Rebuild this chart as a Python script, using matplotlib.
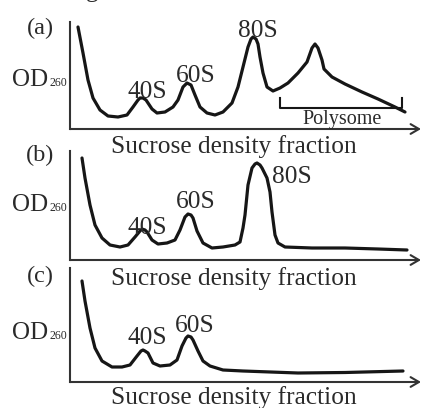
import matplotlib
matplotlib.use('Agg')
import matplotlib.pyplot as plt

W, H = 421, 408

# Profiles (x = fraction position, y = OD260, arbitrary units)
a_x = [8, 13, 18, 23, 30, 38, 48, 57, 63, 68, 70, 73, 76, 82, 87, 95, 103, 108, 113, 117,
       121, 125, 130, 137, 145, 153, 162, 168, 173, 178, 181, 183, 186, 188, 190, 193, 197,
       203, 210, 218, 228, 237, 242, 245, 248, 252, 254, 262, 275, 292, 308, 325, 335]
a_y = [102, 76, 49, 31, 19, 13, 12, 14, 22, 29, 31, 31, 29, 20, 16, 17, 22, 29, 42, 46,
       44, 34, 22, 16, 14, 17, 26, 42, 62, 82, 90, 92, 90, 85, 72, 56, 42,
       38, 41, 46, 56, 67, 81, 85, 81, 69, 60, 52, 45, 37, 30, 22, 17]

b_x = [12, 15, 20, 25, 32, 40, 50, 58, 65, 70, 72, 75, 77, 82, 88, 97, 105, 110, 115, 118,
       121, 123, 127, 133, 142, 153, 165, 170, 173, 175, 178, 182, 185, 187, 190, 192,
       197, 200, 202, 205, 208, 215, 242, 275, 308, 337]
b_y = [102, 82, 55, 35, 22, 15, 13, 15, 23, 29, 31, 30, 28, 20, 16, 17, 20, 30, 43, 46,
       45, 42, 29, 17, 12, 13, 15, 18, 32, 45, 75, 92, 96, 97, 95, 92,
       82, 68, 48, 25, 17, 13, 12, 12, 11, 10]

c_x = [12, 15, 20, 25, 32, 42, 52, 60, 67, 71, 73, 75, 78, 83, 90, 100, 107, 112, 116, 118,
       121, 123, 128, 133, 140, 153, 173, 228, 275, 333]
c_y = [101, 81, 54, 34, 21, 15, 15, 17, 26, 31, 32, 31, 29, 19, 16, 17, 22, 36, 44, 46,
       45, 42, 31, 21, 16, 12, 11, 9, 9.5, 11]

# peak labels: (text, x, baseline y) in data units
a_peaks = [('40S', 77, 31), ('60S', 126, 47), ('80S', 188, 92)]
b_peaks = [('40S', 77, 26), ('60S', 126, 52), ('80S', 222, 77)]
c_peaks = [('40S', 77, 38), ('60S', 125, 50)]

panel_labels = ['(a)', '(b)', '(c)']
xlabel = 'Sucrose density fraction'
polysome_span = (210, 332)

# panel geometry in pixels (top of y axis, x axis row)
panels = [(22, 129), (151, 260), (268, 382)]
letter_y = [28, 155, 276]
od_base = [86, 211, 339]
xlabel_base = [153, 285, 404]

ink = '#161616'
axis_col = '#333333'
txt_col = '#2a2a2a'
serif = ['Liberation Serif', 'DejaVu Serif']

fig = plt.figure(figsize=(W / 100, H / 100), dpi=100)


def ftext(x, y, s, **kw):
    kw.setdefault('family', serif)
    kw.setdefault('color', txt_col)
    return fig.text(x / W, 1 - y / H, s, **kw)


profiles = [(a_x, a_y, a_peaks), (b_x, b_y, b_peaks), (c_x, c_y, c_peaks)]

for i, ((top, bottom), (xs, ys, peaks)) in enumerate(zip(panels, profiles)):
    ax = fig.add_axes([70 / W, 1 - bottom / H, (W - 70) / W, (bottom - top) / H])
    ax.set_xlim(0, W - 70)
    ax.set_ylim(0, bottom - top)
    ax.patch.set_alpha(0)
    for side in ['top', 'right', 'bottom']:
        ax.spines[side].set_visible(False)
    ax.spines['left'].set_linewidth(1.5)
    ax.spines['left'].set_color(axis_col)
    ax.set_xticks([])
    ax.set_yticks([])

    ax.annotate('', xy=(1, 0), xytext=(0, 0), xycoords='axes fraction',
                arrowprops=dict(arrowstyle='->,head_length=0.6,head_width=0.35',
                                lw=1.5, color=axis_col, shrinkA=0, shrinkB=0),
                annotation_clip=False)

    ax.plot(xs, ys, color=ink, lw=2.3, solid_joinstyle='round',
            solid_capstyle='round', clip_on=False)

    for txt, px, py in peaks:
        ax.text(px, py, txt, ha='center', va='baseline', fontsize=18.3,
                family=serif, color=txt_col, clip_on=False)

    if i == 0:
        x0, x1 = polysome_span
        ax.plot([x0, x0, x1, x1], [31, 21, 21, 31], color=ink, lw=1.5,
                clip_on=False)
        ax.text((x0 + x1) / 2 + 1, 5, 'Polysome', ha='center', va='baseline',
                fontsize=14.5, family=serif, color=txt_col)

    ftext(40, letter_y[i], panel_labels[i], ha='center', va='center',
          fontsize=17.5)
    ftext(48, od_base[i], 'OD', ha='right', va='baseline', fontsize=18)
    ftext(49, od_base[i], '260', ha='left', va='baseline', fontsize=8.5)
    ftext(233.5, xlabel_base[i], xlabel, ha='center', va='baseline',
          fontsize=18.3)

# clipped caption fragment at the very top
ftext(92, -2.5, 'g', ha='center', va='baseline', fontsize=18)

fig.savefig('out.png', dpi=100)
